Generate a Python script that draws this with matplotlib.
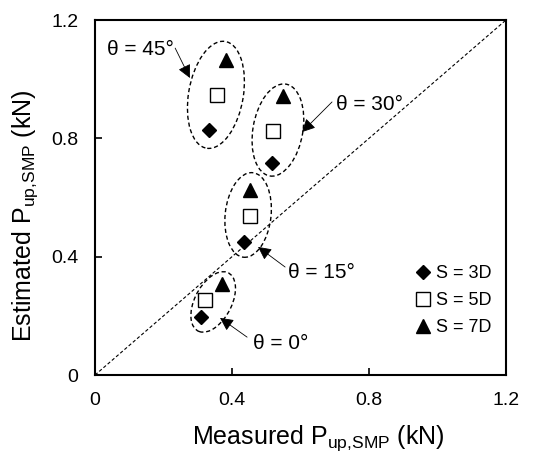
import numpy as np
import matplotlib.pyplot as plt
from matplotlib.patches import Ellipse

plt.rcParams['font.family'] = ['Liberation Sans', 'DejaVu Sans']

# measured vs estimated uplift capacity (kN), per angle group theta = 0, 15, 30, 45
meas_3d = [0.309, 0.435, 0.516, 0.332]
est_3d  = [0.196, 0.450, 0.717, 0.828]
meas_5d = [0.321, 0.453, 0.519, 0.355]
est_5d  = [0.253, 0.537, 0.825, 0.947]
meas_7d = [0.371, 0.453, 0.549, 0.382]
est_7d  = [0.308, 0.625, 0.943, 1.065]

labels = ['S = 3D', 'S = 5D', 'S = 7D']
angle_text = ['θ = 0°', 'θ = 15°', 'θ = 30°', 'θ = 45°']

# group outlines: centre x, centre y, width, height, tilt
ell_cx = [0.345, 0.447, 0.534, 0.353]
ell_cy = [0.247, 0.541, 0.828, 0.947]
ell_w = [0.11, 0.134, 0.146, 0.16]
ell_h = [0.216, 0.287, 0.314, 0.365]
ell_ang = [-22, -5, -8, -8]

# annotation text position, arrow start and arrow tip
txt_x = [0.461, 0.564, 0.704, 0.035]
txt_y = [0.108, 0.348, 0.913, 1.099]
arr_x0 = [0.444, 0.555, 0.692, 0.234]
arr_y0 = [0.128, 0.365, 0.923, 1.105]
arr_x1 = [0.365, 0.476, 0.604, 0.277]
arr_y1 = [0.193, 0.433, 0.821, 1.004]

fig = plt.figure(figsize=(5.39, 4.62), dpi=100)
ax = fig.add_axes([0.1763, 0.1883, 0.9388 - 0.1763, 0.9567 - 0.1883])

ax.plot([0, 1.2], [0, 1.2], color='black', lw=0.8, ls=(0, (3, 2)))

ax.plot(meas_3d, est_3d, 'D', color='black', ms=7, ls='none', label=labels[0])
ax.plot(meas_5d, est_5d, 's', mfc='white', mec='black', mew=1, ms=10, ls='none', label=labels[1])
ax.plot(meas_7d, est_7d, '^', color='black', ms=10, ls='none', label=labels[2])

for i in range(4):
    ax.add_patch(Ellipse((ell_cx[i], ell_cy[i]), ell_w[i], ell_h[i], angle=ell_ang[i],
                         fill=False, ec='black', lw=1, ls=(0, (3, 2))))
    ax.annotate('', xy=(arr_x1[i], arr_y1[i]), xytext=(arr_x0[i], arr_y0[i]),
                arrowprops=dict(arrowstyle='-|>', color='black', lw=0.6,
                                mutation_scale=20, shrinkA=0, shrinkB=0))
    ax.text(txt_x[i], txt_y[i], angle_text[i], fontsize=15, ha='left', va='center')

ax.set_xlim(0, 1.2)
ax.set_ylim(0, 1.2)
ticks = [0, 0.4, 0.8, 1.2]
ax.set_xticks(ticks)
ax.set_yticks(ticks)
ax.set_xticklabels(['0', '0.4', '0.8', '1.2'])
ax.set_yticklabels(['0', '0.4', '0.8', '1.2'])
ax.tick_params(direction='in', length=5, width=1.2, labelsize=14, pad=12)
for s in ax.spines.values():
    s.set_linewidth(1.5)

ax.set_xlabel('Measured P$_{\\mathregular{up{,}SMP}}$ (kN)', fontsize=18)
ax.set_ylabel('Estimated P$_{\\mathregular{up{,}SMP}}$ (kN)', fontsize=18)
ax.xaxis.set_label_coords(0.544, -0.137)
ax.yaxis.set_label_coords(-0.135, 0.45)

ax.legend(loc='upper left', bbox_to_anchor=(0.75, 0.335), frameon=False, fontsize=13,
          handletextpad=0.1, handlelength=1.2, labelspacing=0.55, borderpad=0)

fig.savefig('out.png', dpi=100)
